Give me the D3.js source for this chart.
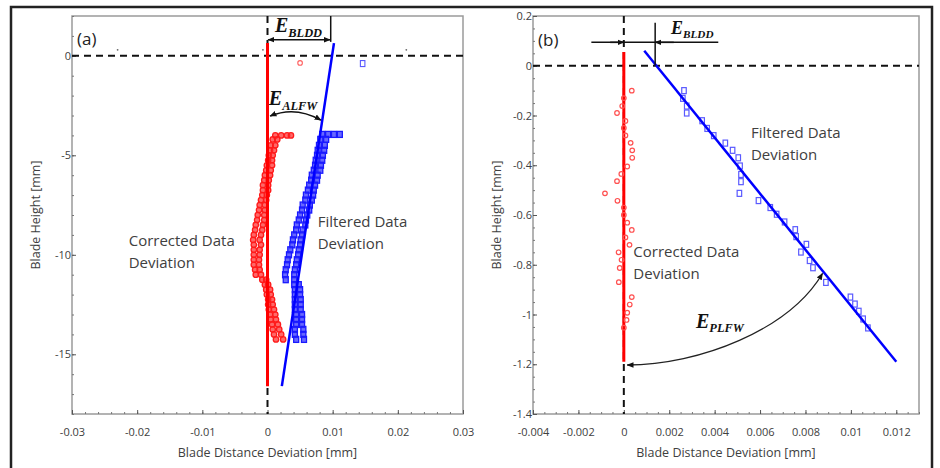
<!DOCTYPE html>
<html>
<head>
<meta charset="utf-8">
<script src="https://cdn.jsdelivr.net/npm/d3@7"></script>
<style>
  body { margin: 0; background: #fff; }
  svg { display: block; }
</style>
</head>
<body>
<svg width="940" height="468"></svg>
<script>
// ---- panel (a) data : [y, [x values]] rows ----
const redRowsA = [
  [-4.0, [0.0012, 0.0021, 0.0030, 0.0036]], [-4.2, [0.0008, 0.0015]], [-4.5, [0.0005, 0.0012]],
  [-4.75, [0.0004, 0.0010]], [-5.0, [0.0002, 0.0008]], [-5.25, [0.0001, 0.0007]],
  [-5.5, [-0.0001, 0.0007]], [-5.75, [-0.0002, 0.0005]], [-6.0, [-0.0004, 0.0004]],
  [-6.25, [-0.0005, 0.0002]], [-6.5, [-0.0007, 0.0001]], [-6.75, [-0.0007, 0.0001]],
  [-7.0, [-0.0008, -0.0001]], [-7.25, [-0.0010, -0.0002]], [-7.5, [-0.0012, -0.0004]],
  [-7.75, [-0.0013, -0.0004]], [-8.0, [-0.0015, -0.0005]], [-8.25, [-0.0016, -0.0005]],
  [-8.5, [-0.0018, -0.0007]], [-8.75, [-0.0019, -0.0008]], [-9.0, [-0.0021, -0.0010]],
  [-9.25, [-0.0022, -0.0012]], [-9.5, [-0.0021, -0.0010]], [-9.75, [-0.0021, -0.0012]],
  [-10.0, [-0.0021, -0.0012]], [-10.25, [-0.0021, -0.0013]], [-10.5, [-0.0021, -0.0013]],
  [-10.75, [-0.0019, -0.0012]], [-11.0, [-0.0018, -0.0010]], [-11.25, [-0.0008, -0.0002]],
  [-11.5, [-0.0004, 0.0001]], [-11.75, [-0.0002, 0.0004]], [-12.0, [-0.0001, 0.0005]],
  [-12.25, [0.0001, 0.0007]], [-12.5, [0.0001, 0.0008]], [-12.75, [0.0002, 0.0010]],
  [-13.0, [0.0004, 0.0012]], [-13.25, [0.0005, 0.0013]], [-13.5, [0.0007, 0.0016]],
  [-13.75, [0.0008, 0.0018]], [-14.0, [0.0010, 0.0021]], [-14.25, [0.0013, 0.0024]]
];
const blueRowsA = [
  [-3.95, [0.0084, 0.0093, 0.0102, 0.0111]], [-4.2, [0.0081, 0.0090]], [-4.5, [0.0079, 0.0088]],
  [-4.75, [0.0077, 0.0087]], [-5.0, [0.0076, 0.0085]], [-5.25, [0.0074, 0.0084]],
  [-5.5, [0.0073, 0.0082]], [-5.75, [0.0071, 0.0081]], [-6.0, [0.0068, 0.0077]],
  [-6.25, [0.0067, 0.0076]], [-6.5, [0.0064, 0.0073]], [-6.75, [0.0062, 0.0071]],
  [-7.0, [0.0059, 0.0070]], [-7.25, [0.0058, 0.0068]], [-7.5, [0.0054, 0.0065]],
  [-7.75, [0.0053, 0.0064]], [-8.0, [0.0050, 0.0061]], [-8.25, [0.0048, 0.0059]],
  [-8.5, [0.0045, 0.0058]], [-8.75, [0.0044, 0.0054]], [-9.0, [0.0041, 0.0053]],
  [-9.25, [0.0039, 0.0051]], [-9.5, [0.0038, 0.0050]], [-9.75, [0.0035, 0.0048]],
  [-10.0, [0.0033, 0.0047]], [-10.25, [0.0031, 0.0045]], [-10.5, [0.0030, 0.0044]],
  [-10.75, [0.0028, 0.0042]], [-11.0, [0.0027, 0.0041]], [-11.25, [0.0028, 0.0041]],
  [-11.5, [0.0041, 0.0048]], [-11.75, [0.0042, 0.0050]], [-12.0, [0.0042, 0.0050]],
  [-12.25, [0.0042, 0.0051]], [-12.5, [0.0042, 0.0051]], [-12.75, [0.0042, 0.0051]],
  [-13.0, [0.0044, 0.0053]], [-13.25, [0.0044, 0.0053]], [-13.5, [0.0044, 0.0053]],
  [-13.75, [0.0042, 0.0055]], [-14.0, [0.0042, 0.0055]], [-14.25, [0.0044, 0.0056]]
];
const redOutA = [[0.0050, -0.36]];
const blueOutA = [[0.0146, -0.39]];
const strayA = [[-0.023, 0.3], [-0.0007, 0.3], [0.0213, 0.3]];
// fitted lines [x, y] end points
const redLineA = [[0, 0.64], [0, -16.6]];
const blueLineA = [[0.0102, 0.64], [0.0022, -16.6]];

// ---- panel (b) data ----
const redB = [
  [0.00035, -0.10], [0, -0.13], [-0.00007, -0.162], [-0.0003, -0.19], [0.00007, -0.222],
  [0, -0.25], [0.00007, -0.28], [0.0003, -0.31], [0.00037, -0.34], [0.00037, -0.37],
  [0.00015, -0.405], [-0.00011, -0.435], [-0.0003, -0.464], [-0.00083, -0.513],
  [-0.00028, -0.543], [0, -0.57], [0, -0.60], [0.00015, -0.631], [0.00035, -0.66],
  [0.00007, -0.69], [0.00025, -0.72], [-0.00023, -0.75], [-0.0001, -0.78],
  [-0.00018, -0.813], [-0.00022, -0.87], [0.00035, -0.93], [0.00026, -0.96],
  [0.00015, -0.993], [0.00012, -1.022], [0, -1.053]
];
const blueB = [
  [0.00265, -0.10], [0.0026, -0.131], [0.00277, -0.162], [0.00277, -0.19], [0.00345, -0.221],
  [0.00367, -0.252], [0.00396, -0.281], [0.00447, -0.311], [0.00479, -0.34], [0.00504, -0.37],
  [0.00512, -0.403], [0.00516, -0.437], [0.00516, -0.466], [0.00509, -0.513], [0.00593, -0.542],
  [0.00645, -0.57], [0.00673, -0.597], [0.00708, -0.628], [0.00755, -0.659], [0.00759, -0.687],
  [0.00804, -0.718], [0.0078, -0.749], [0.00818, -0.783], [0.00833, -0.812], [0.0089, -0.871],
  [0.00998, -0.93], [0.01018, -0.958], [0.01035, -0.987], [0.01054, -1.018], [0.01075, -1.054]
];
const redLineB = [[0, 0.055], [0, -1.19]];
const blueLineB = [[0.0009, 0.06], [0.012, -1.19]];

// axis ticks
const xTicksA = [-0.03, -0.02, -0.01, 0, 0.01, 0.02, 0.03];
const yTicksA = [0, -5, -10, -15];
const xTicksB = [-0.004, -0.002, 0, 0.002, 0.004, 0.006, 0.008, 0.01, 0.012];
const yTicksB = [0.2, 0, -0.2, -0.4, -0.6, -0.8, -1, -1.2, -1.4];

const svg = d3.select("svg");
const FONT = "'Open Sans', 'Noto Sans', sans-serif";
const TXT = "#404040";

// outer frame
svg.append("rect").attr("x", 11).attr("y", 7).attr("width", 921).attr("height", 470)
   .attr("fill", "none").attr("stroke", "#222").attr("stroke-width", 2.5);

svg.append("defs").append("marker")
   .attr("id", "arr").attr("viewBox", "0 0 10 10").attr("refX", 9).attr("refY", 5)
   .attr("markerWidth", 7).attr("markerHeight", 7).attr("markerUnits", "userSpaceOnUse")
   .attr("orient", "auto-start-reverse")
   .append("path").attr("d", "M0,1 L10,5 L0,9 z").attr("fill", "#111");

const fmt = d => String(+d.toFixed(4));

function panel(box, xDom, yDom, xt, yt, xMinor, yMinor) {
  const x = d3.scaleLinear().domain(xDom).range([box.left, box.right]);
  const y = d3.scaleLinear().domain(yDom).range([box.bottom, box.top]);
  const g = svg.append("g");

  g.append("rect").attr("x", box.left).attr("y", box.top)
   .attr("width", box.right - box.left).attr("height", box.bottom - box.top)
   .attr("fill", "none").attr("stroke", "#9a9a9a").attr("stroke-width", 1.5);

  // bottom axis, ticks inside
  g.append("g").attr("transform", `translate(0,${box.bottom})`)
   .call(d3.axisBottom(x).tickValues(d3.range(xDom[0], xDom[1] + 1e-9, xMinor)).tickSize(-2).tickFormat(""))
   .call(a => a.select(".domain").remove())
   .selectAll("line").attr("stroke", "#777");
  const xa = g.append("g").attr("transform", `translate(0,${box.bottom})`)
   .call(d3.axisBottom(x).tickValues(xt).tickSize(-4).tickPadding(14).tickFormat(fmt));
  xa.select(".domain").remove();
  xa.selectAll("line").attr("stroke", "#555");
  xa.selectAll("text").attr("fill", TXT).attr("font-family", FONT).attr("font-size", 11);

  g.append("g").attr("transform", `translate(${box.left},0)`)
   .call(d3.axisLeft(y).tickValues(d3.range(yDom[0], yDom[1] + 1e-9, yMinor)).tickSize(-2).tickFormat(""))
   .call(a => a.select(".domain").remove())
   .selectAll("line").attr("stroke", "#777");
  const ya = g.append("g").attr("transform", `translate(${box.left},0)`)
   .call(d3.axisLeft(y).tickValues(yt).tickSize(-4).tickPadding(1).tickFormat(fmt));
  ya.select(".domain").remove();
  ya.selectAll("line").attr("stroke", "#555");
  ya.selectAll("text").attr("fill", TXT).attr("font-family", FONT).attr("font-size", 11);

  g.append("text").attr("x", (box.left + box.right) / 2).attr("y", 457)
   .attr("text-anchor", "middle").attr("font-family", FONT).attr("font-size", 12.5)
   .attr("fill", TXT).text("Blade Distance Deviation [mm]");
  g.append("text").attr("transform", `translate(${box.left - 36},${(box.top + box.bottom) / 2}) rotate(-90)`)
   .attr("text-anchor", "middle").attr("dy", "0.35em").attr("font-family", FONT).attr("font-size", 12.5)
   .attr("fill", TXT).text("Blade Height [mm]");

  // dashed zero lines
  g.append("line").attr("x1", box.left).attr("x2", box.right).attr("y1", y(0)).attr("y2", y(0))
   .attr("stroke", "#111").attr("stroke-width", 2).attr("stroke-dasharray", "7,5");
  g.append("line").attr("x1", x(0)).attr("x2", x(0)).attr("y1", box.top).attr("y2", box.bottom)
   .attr("stroke", "#111").attr("stroke-width", 2).attr("stroke-dasharray", "7,5");
  return { x, y, g };
}

function circles(p, data, r, stroke, fill, sw) {
  p.g.append("g").selectAll("circle").data(data).join("circle")
   .attr("cx", d => p.x(d[0])).attr("cy", d => p.y(d[1])).attr("r", r)
   .attr("fill", fill).attr("stroke", stroke).attr("stroke-width", sw);
}
function squares(p, data, w, h, stroke, fill, sw) {
  p.g.append("g").selectAll("rect").data(data).join("rect")
   .attr("x", d => p.x(d[0]) - w / 2).attr("y", d => p.y(d[1]) - h / 2)
   .attr("width", w).attr("height", h)
   .attr("fill", fill).attr("stroke", stroke).attr("stroke-width", sw);
}
function fitLine(p, pts, color, w) {
  p.g.append("line").attr("x1", p.x(pts[0][0])).attr("y1", p.y(pts[0][1]))
   .attr("x2", p.x(pts[1][0])).attr("y2", p.y(pts[1][1]))
   .attr("stroke", color).attr("stroke-width", w);
}
function eLabel(p, x, y, sub, size) {
  const t = p.g.append("text").attr("x", p.x(x)).attr("y", p.y(y))
   .attr("font-family", "'Liberation Serif', 'DejaVu Serif', serif")
   .attr("font-style", "italic").attr("font-weight", "bold").attr("fill", "#111");
  t.append("tspan").attr("font-size", size).text("E");
  t.append("tspan").attr("font-size", size * 0.62).attr("dy", size * 0.22).text(sub);
}
function note(p, x, y, lines, size) {
  const t = p.g.append("text").attr("font-family", FONT).attr("font-size", size).attr("fill", TXT);
  lines.forEach((s, i) => t.append("tspan").attr("x", p.x(x)).attr("y", p.y(y) + i * 22).text(s));
}

// ---------------- panel (a) ----------------
const A = panel({ left: 72, top: 16, right: 463, bottom: 414 }, [-0.03, 0.03], [-18, 2],
  xTicksA, yTicksA, 0.002, 1);
const redA = redRowsA.flatMap(([yv, xs]) => xs.map(xv => [xv, yv]));
const blueA = blueRowsA.flatMap(([yv, xs]) => xs.map(xv => [xv, yv]));
A.g.append("g").selectAll("circle").data(strayA).join("circle")
 .attr("cx", d => A.x(d[0])).attr("cy", d => A.y(d[1])).attr("r", 0.9).attr("fill", "#666");
circles(A, redA, 2.7, "#ff1a1a", "rgba(255,40,40,0.7)", 1.3);
squares(A, blueA, 5, 6, "#1a1aff", "rgba(40,40,255,0.7)", 1.3);
circles(A, redOutA, 2.3, "#ff6060", "none", 1.1);
squares(A, blueOutA, 4.5, 6, "#5a5aff", "none", 1.1);
fitLine(A, redLineA, "#ff0000", 3);
fitLine(A, blueLineA, "#0000ff", 2.5);

// E_BLDD (a)
A.g.append("line").attr("x1", A.x(0.0097)).attr("x2", A.x(0.0097)).attr("y1", A.y(2)).attr("y2", A.y(0.7))
 .attr("stroke", "#111").attr("stroke-width", 1.5);
A.g.append("line").attr("x1", A.x(0.0001)).attr("x2", A.x(0.0096)).attr("y1", A.y(0.81)).attr("y2", A.y(0.81))
 .attr("stroke", "#111").attr("stroke-width", 1.5)
 .attr("marker-start", "url(#arr)").attr("marker-end", "url(#arr)");
eLabel(A, 0.00115, 1.19, "BLDD", 20);
// E_ALFW (a)
A.g.append("path")
 .attr("d", `M${A.x(0.0004)},${A.y(-3.03)} Q${A.x(0.0042)},${A.y(-2.5)} ${A.x(0.0082)},${A.y(-3.23)}`)
 .attr("fill", "none").attr("stroke", "#111").attr("stroke-width", 1.5)
 .attr("marker-start", "url(#arr)").attr("marker-end", "url(#arr)");
eLabel(A, 0.0002, -2.48, "ALFW", 20);

note(A, -0.0213, -9.55, ["Corrected Data", "Deviation"], 15);
note(A, 0.0077, -8.6, ["Filtered Data", "Deviation"], 15);
A.g.append("text").attr("x", 77).attr("y", 45).attr("font-family", FONT).attr("font-size", 17)
 .attr("fill", "#222").text("(a)");

// ---------------- panel (b) ----------------
const B = panel({ left: 533, top: 16, right: 919, bottom: 414 }, [-0.004, 0.013], [-1.4, 0.2],
  xTicksB, yTicksB, 0.0005, 0.05);
fitLine(B, redLineB, "#ff0000", 3);
circles(B, redB, 2.3, "#ff5050", "none", 1.2);
squares(B, blueB, 4.5, 6, "#5a5aff", "none", 1.2);
fitLine(B, blueLineB, "#0000ff", 2.5);

// E_BLDD (b)
B.g.append("line").attr("x1", B.x(-0.00143)).attr("x2", B.x(0.00416)).attr("y1", B.y(0.094)).attr("y2", B.y(0.094))
 .attr("stroke", "#111").attr("stroke-width", 1.5);
B.g.append("line").attr("x1", B.x(-0.0006)).attr("x2", B.x(0)).attr("y1", B.y(0.094)).attr("y2", B.y(0.094))
 .attr("stroke", "#111").attr("stroke-width", 1.5).attr("marker-end", "url(#arr)");
B.g.append("line").attr("x1", B.x(0.0022)).attr("x2", B.x(0.00138)).attr("y1", B.y(0.094)).attr("y2", B.y(0.094))
 .attr("stroke", "#111").attr("stroke-width", 1.5).attr("marker-end", "url(#arr)");
B.g.append("line").attr("x1", B.x(0.00138)).attr("x2", B.x(0.00138)).attr("y1", B.y(0.173)).attr("y2", B.y(0))
 .attr("stroke", "#111").attr("stroke-width", 1.5);
eLabel(B, 0.00208, 0.127, "BLDD", 18);
// E_PLFW (b)
B.g.append("path")
 .attr("d", `M${B.x(0.00015)},${B.y(-1.203)} C${B.x(0.00333)},${B.y(-1.203)} ${B.x(0.00728)},${B.y(-1.062)} ${B.x(0.00875)},${B.y(-0.835)}`)
 .attr("fill", "none").attr("stroke", "#222").attr("stroke-width", 1.3)
 .attr("marker-start", "url(#arr)").attr("marker-end", "url(#arr)");
eLabel(B, 0.00318, -1.054, "PLFW", 20);

note(B, 0.0056, -0.29, ["Filtered Data", "Deviation"], 15);
note(B, 0.00042, -0.77, ["Corrected Data", "Deviation"], 15);
B.g.append("text").attr("x", 538).attr("y", 46).attr("font-family", FONT).attr("font-size", 17)
 .attr("fill", "#222").text("(b)");
</script>
</body>
</html>
